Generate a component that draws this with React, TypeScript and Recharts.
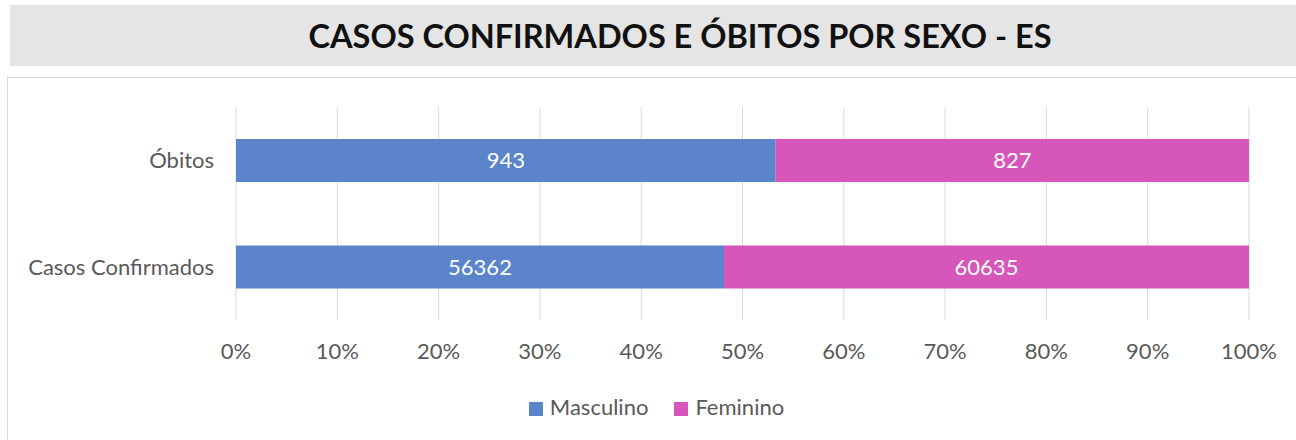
import React from 'react';
import { BarChart, Bar, XAxis, YAxis, CartesianGrid, Legend, LabelList } from 'recharts';

// categories, series and tick values
const categories = ['Óbitos', 'Casos Confirmados'];
const masculino = [943, 56362];
const feminino = [827, 60635];
const percentTicks = [0, 0.1, 0.2, 0.3, 0.4, 0.5, 0.6, 0.7, 0.8, 0.9, 1];
const seriesOrder = ['Masculino', 'Feminino'];

const BLUE = '#5B84CA';
const PINK = '#D756B9';
const FONT = 'Lato, "Open Sans", sans-serif';
const FS = 22;

const data = categories.map((name, i) => ({
    name,
    Masculino: masculino[i],
    Feminino: feminino[i],
}));

const App: React.FC = () => {
    return (
        <div style={{ position: 'absolute', left: 0, top: 0, width: 1296, height: 440, overflow: 'hidden', fontFamily: FONT }}>
            {/* title band */}
            <div style={{ position: 'absolute', left: 10, top: 5, width: 1290, height: 61, background: '#e5e5e5' }} />
            <div
                style={{
                    position: 'absolute',
                    left: 0,
                    width: 1360,
                    top: 5,
                    height: 61,
                    lineHeight: '61px',
                    textAlign: 'center',
                    fontWeight: 700,
                    fontSize: 32.5,
                    color: '#111',
                }}
            >
                CASOS CONFIRMADOS E ÓBITOS POR SEXO - ES
            </div>
            {/* chart frame */}
            <div style={{ position: 'absolute', left: 7, top: 77, width: 1300, height: 380, border: '1px solid #d9d9d9' }} />
            <div style={{ position: 'absolute', left: 0, top: 77 }}>
                <BarChart
                    width={1296}
                    height={363}
                    data={data}
                    layout="vertical"
                    stackOffset="expand"
                    margin={{ top: 30, right: 47, left: 0, bottom: 0 }}
                >
                    <CartesianGrid horizontal={false} stroke="#d9d9d9" />
                    <XAxis
                        type="number"
                        domain={[0, 1]}
                        ticks={percentTicks}
                        tickFormatter={(v: number) => `${Math.round(v * 100)}%`}
                        axisLine={false}
                        tickLine={false}
                        tickMargin={17}
                        height={60}
                        tick={{ fill: '#595959', fontSize: FS, fontFamily: FONT }}
                    />
                    <YAxis
                        type="category"
                        dataKey="name"
                        width={236}
                        axisLine={false}
                        tickLine={false}
                        tickMargin={16}
                        tick={{ fill: '#595959', fontSize: FS, fontFamily: FONT }}
                    />
                    <Legend
                        height={60}
                        iconType="square"
                        iconSize={14}
                        itemSorter={(item: any) => seriesOrder.indexOf(item.value)}
                        wrapperStyle={{ top: 316, left: 37, fontSize: FS, fontFamily: FONT, color: '#595959' }}
                        formatter={(value: string) => (
                            <span
                                style={{
                                    color: '#595959',
                                    marginLeft: 3,
                                    marginRight: value === seriesOrder[0] ? 16 : 0,
                                }}
                            >
                                {value}
                            </span>
                        )}
                    />
                    <Bar dataKey="Masculino" stackId="a" fill={BLUE} barSize={43} isAnimationActive={false}>
                        <LabelList dataKey="Masculino" position="center" fill="#fff" fontSize={FS} fontFamily={FONT} />
                    </Bar>
                    <Bar dataKey="Feminino" stackId="a" fill={PINK} barSize={43} isAnimationActive={false}>
                        <LabelList dataKey="Feminino" position="center" fill="#fff" fontSize={FS} fontFamily={FONT} />
                    </Bar>
                </BarChart>
            </div>
        </div>
    );
};

export default App;
